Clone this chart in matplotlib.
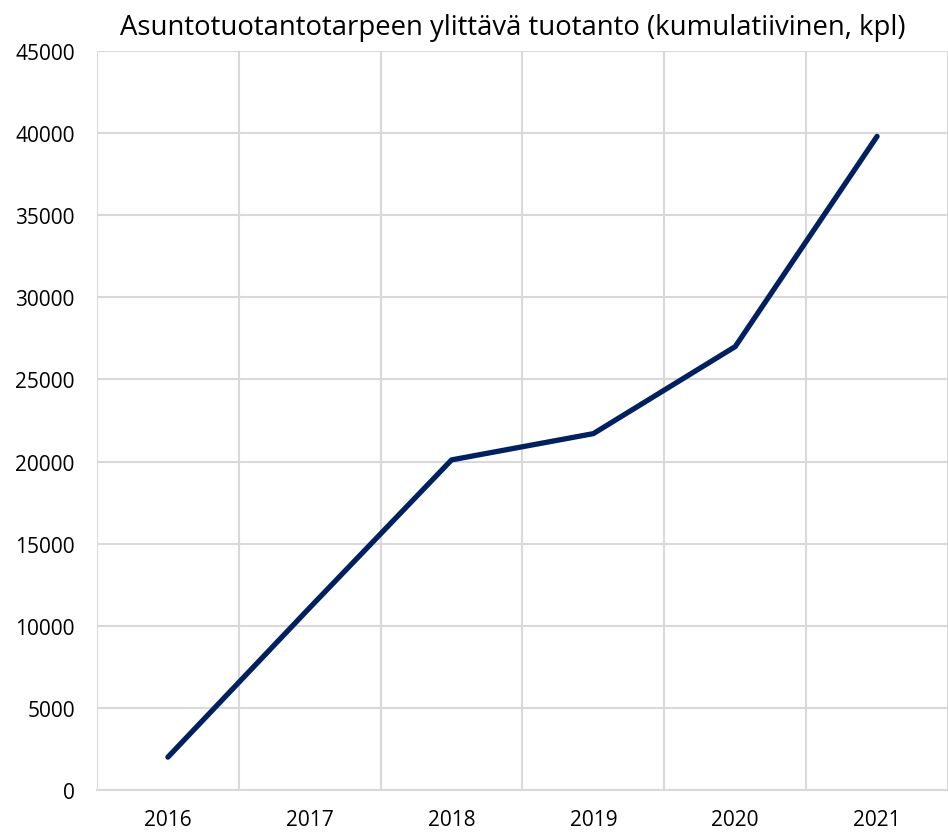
import matplotlib.pyplot as plt

years = ['2016', '2017', '2018', '2019', '2020', '2021']
values = [2000, 11100, 20100, 21700, 27000, 39800]

plt.rcParams['font.family'] = ['Open Sans', 'DejaVu Sans']

fig = plt.figure(figsize=(9.48, 8.37), dpi=100)
ax = fig.add_axes([0.1023, 0.0550, 0.8977, 0.8829])

x = range(len(years))
ax.plot(x, values, color='#002060', linewidth=3.8, solid_capstyle='round', zorder=3)

ax.set_xlim(-0.5, len(years) - 0.5)
ax.set_ylim(0, 45000)
ax.set_yticks(range(0, 45001, 5000))
ax.set_xticks(x)
ax.set_xticklabels(years)

# vertical gridlines between categories, like Excel
ax.set_xticks([i - 0.5 for i in range(len(years) + 1)], minor=True)
ax.grid(which='minor', axis='x', color='#d9d9d9', linewidth=1.5)
ax.grid(which='major', axis='y', color='#d9d9d9', linewidth=1.5)
ax.tick_params(which='both', length=0)
ax.tick_params(axis='y', labelsize=15, pad=16)
ax.tick_params(axis='x', labelsize=15, pad=14)

for s in ['top', 'right', 'left']:
    ax.spines[s].set_visible(False)
ax.spines['bottom'].set_color('#d9d9d9')
ax.spines['bottom'].set_linewidth(1.5)

ax.set_title('Asuntotuotantotarpeen ylittävä tuotanto (kumulatiivinen, kpl)',
             fontsize=19.8, pad=12, x=0.488)

fig.savefig('out.png', dpi=100)
